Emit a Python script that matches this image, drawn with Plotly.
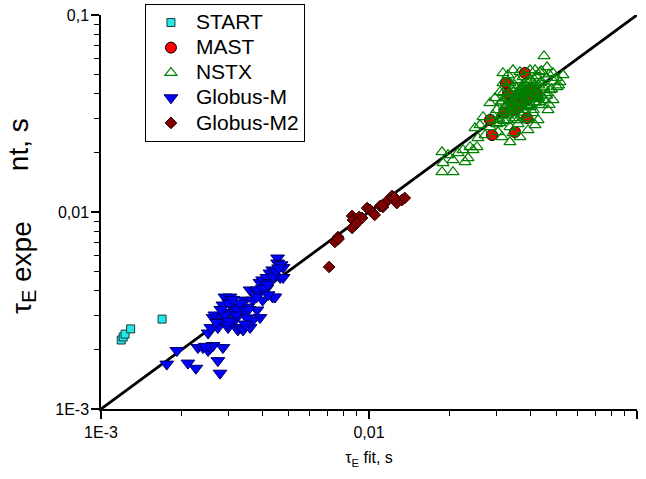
import plotly.graph_objects as go

# ---------------- data ----------------
start_x = [0.00119, 0.00121, 0.00123, 0.00129, 0.00169]
start_y = [0.00224, 0.00232, 0.00240, 0.00255, 0.00286]

mast_x = [0.0382, 0.03245, 0.02828, 0.02877, 0.03506, 0.03886,
          0.0340, 0.0360, 0.0380, 0.0350, 0.0400, 0.0370, 0.0330, 0.0390, 0.0420, 0.0320]
mast_y = [0.05077, 0.04517, 0.02931, 0.02460, 0.02547, 0.0300,
          0.0360, 0.0380, 0.0400, 0.0330, 0.0420, 0.0350, 0.0400, 0.0370, 0.0400, 0.0320]

nstx_x = [0.04498, 0.04615, 0.04164, 0.04346, 0.04859, 0.05296, 0.05161, 0.05030, 0.04735,
          0.04859, 0.04655, 0.04273, 0.04092, 0.03920, 0.03659, 0.03446, 0.03358, 0.03136,
          0.03029, 0.02828, 0.02952, 0.03082, 0.03162, 0.03446, 0.03302, 0.03659, 0.03988,
          0.02664, 0.02596, 0.02486, 0.02549, 0.02710, 0.02529, 0.02828, 0.02902, 0.03162,
          0.03273, 0.04237, 0.04615, 0.04346, 0.03988, 0.03755, 0.03567, 0.03358, 0.03162,
          0.03723, 0.03988, 0.03446, 0.03597, 0.03886, 0.03358, 0.03082, 0.04421, 0.04164,
          0.03755, 0.03162, 0.03358, 0.03567,
          0.01873, 0.01971, 0.02058, 0.02243, 0.02282, 0.01873, 0.02058, 0.01889, 0.02149,
          0.02382, 0.02445, 0.02342,
          0.0330, 0.0350, 0.0370, 0.0360, 0.0340, 0.0380, 0.0400, 0.0390, 0.0410, 0.0420,
          0.0430, 0.0380, 0.0350, 0.0330, 0.0320, 0.0310, 0.0360, 0.0370, 0.0390, 0.0400,
          0.0410, 0.0440, 0.0450, 0.0460, 0.0470, 0.0340, 0.0300, 0.0290, 0.0300, 0.0320,
          0.0360, 0.0370, 0.0395, 0.0420, 0.0430, 0.0350, 0.0330, 0.0380, 0.0400, 0.0420,
          0.0440, 0.0490, 0.0500, 0.0510, 0.0480, 0.0460, 0.0450, 0.0470,
          0.0325, 0.0335, 0.0345, 0.0355, 0.0365, 0.0375, 0.0385, 0.0395, 0.0405, 0.0415,
          0.0325, 0.0335, 0.0345, 0.0355, 0.0365, 0.0375, 0.0385, 0.0395, 0.0405, 0.0415,
          0.0325, 0.0335, 0.0345, 0.0355, 0.0365, 0.0375, 0.0385, 0.0395, 0.0405, 0.0415,
          0.0315, 0.0342, 0.0368, 0.0392, 0.0418, 0.0440, 0.0305, 0.0352, 0.0378, 0.0432]
nstx_y = [0.06193, 0.05445, 0.05257, 0.05136, 0.05077, 0.04959, 0.04570, 0.04311, 0.04162,
          0.03702, 0.03295, 0.02931, 0.03181, 0.02608, 0.02403, 0.02518, 0.02266, 0.02403,
          0.02547, 0.03575, 0.03790, 0.04066, 0.05077, 0.05257, 0.04959, 0.05136, 0.05257,
          0.03036, 0.02764, 0.02669, 0.02375, 0.02460, 0.02138, 0.02700, 0.02931, 0.03219,
          0.02931, 0.03834, 0.04018, 0.04517, 0.04677, 0.04311, 0.04018, 0.03702, 0.04018,
          0.03412, 0.03412, 0.03295, 0.02931, 0.02931, 0.02700, 0.02830, 0.03493, 0.02764,
          0.04844, 0.04517, 0.04517, 0.04677,
          0.02016, 0.01947, 0.01836, 0.02064, 0.01794, 0.01596, 0.01596, 0.01773, 0.01993,
          0.02138, 0.02064, 0.01879,
          0.0380, 0.0360, 0.0390, 0.0330, 0.0350, 0.0370, 0.0380, 0.0350, 0.0400, 0.0420,
          0.0440, 0.0320, 0.0300, 0.0310, 0.0340, 0.0360, 0.0410, 0.0430, 0.0410, 0.0350,
          0.0330, 0.0460, 0.0430, 0.0480, 0.0500, 0.0420, 0.0330, 0.0310, 0.0280, 0.0290,
          0.0280, 0.0310, 0.0300, 0.0360, 0.0380, 0.0440, 0.0460, 0.0450, 0.0470, 0.0490,
          0.0520, 0.0460, 0.0480, 0.0440, 0.0420, 0.0390, 0.0370, 0.0350,
          0.0345, 0.0372, 0.0335, 0.0398, 0.0362, 0.0415, 0.0382, 0.0428, 0.0395, 0.0445,
          0.0312, 0.0328, 0.0352, 0.0340, 0.0388, 0.0360, 0.0405, 0.0376, 0.0420, 0.0400,
          0.0378, 0.0402, 0.0368, 0.0425, 0.0392, 0.0440, 0.0410, 0.0455, 0.0430, 0.0468,
          0.0365, 0.0318, 0.0420, 0.0345, 0.0375, 0.0392, 0.0298, 0.0388, 0.0330, 0.0362]

globm_x = [0.00176, 0.00192, 0.00211, 0.00226, 0.00230, 0.00240, 0.00251, 0.00257, 0.00262,
           0.00273, 0.00278, 0.00285, 0.00251, 0.00257, 0.00262, 0.00266, 0.00285, 0.00298,
           0.00290, 0.00303, 0.00285, 0.00311, 0.00316, 0.00324, 0.00330, 0.00339, 0.00351,
           0.00344, 0.00360, 0.00369, 0.00382, 0.00392, 0.00360, 0.00369, 0.00385, 0.00392,
           0.00416, 0.00401, 0.00437, 0.00446, 0.00427, 0.00437, 0.00456, 0.00456, 0.00478,
           0.00466, 0.00416, 0.00427, 0.00278, 0.00273, 0.00298, 0.00298, 0.00311, 0.00339,
           0.00324, 0.00382, 0.00401, 0.00478,
           0.00300, 0.00320, 0.00350, 0.00330, 0.00355, 0.00310, 0.00290, 0.00270, 0.00380,
           0.00400, 0.00440, 0.00450, 0.00470, 0.00460, 0.00420, 0.00345, 0.00300, 0.00420,
           0.00280, 0.00245]
globm_y = [0.00169, 0.00198, 0.00171, 0.00161, 0.00205, 0.00205, 0.00198, 0.00205, 0.00210,
           0.00176, 0.00152, 0.00205, 0.00243, 0.00259, 0.00291, 0.00300, 0.00291, 0.00309,
           0.00370, 0.00370, 0.00337, 0.00329, 0.00283, 0.00252, 0.00259, 0.00309, 0.00329,
           0.00357, 0.00402, 0.00357, 0.00318, 0.00291, 0.00259, 0.00283, 0.00388, 0.00439,
           0.00411, 0.00452, 0.00370, 0.00370, 0.00490, 0.00508, 0.00584, 0.00551, 0.00523,
           0.00465, 0.00465, 0.00439, 0.00277, 0.00259, 0.00259, 0.00267, 0.00309, 0.00252,
           0.00318, 0.00402, 0.00357, 0.00465,
           0.00345, 0.00300, 0.00290, 0.00345, 0.00320, 0.00360, 0.00300, 0.00275, 0.00370,
           0.00410, 0.00470, 0.00500, 0.00540, 0.00520, 0.00430, 0.00270, 0.00280, 0.00380,
           0.00320, 0.00208]

globm2_x = [0.00710, 0.00746, 0.00766, 0.00865, 0.00871, 0.00887, 0.00919, 0.00942, 0.00865,
            0.00984, 0.0101, 0.01035, 0.0105, 0.0110, 0.01127, 0.01178, 0.01219, 0.0123,
            0.0127, 0.01327, 0.0136, 0.0077, 0.0090, 0.0112, 0.0125]
globm2_y = [0.00526, 0.00705, 0.00746, 0.00955, 0.0091, 0.00859, 0.00944, 0.00933, 0.0083,
            0.01047, 0.01024, 0.00989, 0.00966, 0.01072, 0.0106, 0.0115, 0.01206, 0.01178,
            0.0111, 0.0115, 0.01178, 0.0073, 0.0088, 0.0108, 0.0118]

fit_x = [0.001, 0.1]
fit_y = [0.001, 0.1]

tick_vals = [0.001, 0.01, 0.1]
tick_text = ["1E-3", "0,01", "0,1"]
minor_vals = [0.002, 0.003, 0.004, 0.005, 0.006, 0.007, 0.008, 0.009,
              0.02, 0.03, 0.04, 0.05, 0.06, 0.07, 0.08, 0.09]

FONT = "Arial, 'Liberation Sans', sans-serif"


def leg(name):
    return '<span style="font-size:21px">' + name + '</span>'


fig = go.Figure()

fig.add_trace(go.Scatter(x=fit_x, y=fit_y, mode="lines",
                         line=dict(color="black", width=2.8), showlegend=False,
                         hoverinfo="skip"))

fig.add_trace(go.Scatter(x=start_x, y=start_y, mode="markers", name=leg("START"),
                         marker=dict(symbol="square", size=8, color="#22E8E8",
                                     line=dict(color="#1a3a3a", width=1))))
fig.add_trace(go.Scatter(x=mast_x, y=mast_y, mode="markers", name=leg("MAST"),
                         marker=dict(symbol="circle", size=11, color="#FF0000",
                                     line=dict(color="black", width=1))))
fig.add_trace(go.Scatter(x=nstx_x, y=nstx_y, mode="markers", name=leg("NSTX"),
                         marker=dict(symbol="triangle-up-open", size=10.5, color="#008000",
                                     line=dict(color="#008000", width=1.2))))
fig.add_trace(go.Scatter(x=globm_x, y=globm_y, mode="markers", name=leg("Globus-M"),
                         marker=dict(symbol="triangle-down", size=12, color="#0000FF",
                                     line=dict(color="#000060", width=1))))
fig.add_trace(go.Scatter(x=globm2_x, y=globm2_y, mode="markers", name=leg("Globus-M2"),
                         marker=dict(symbol="diamond", size=9, color="#800000",
                                     line=dict(color="#2a0000", width=1))))

axis_common = dict(
    type="log", range=[-3, -1], showgrid=False, zeroline=False,
    showline=True, linecolor="black", linewidth=1.5,
    ticks="outside", ticklen=8, tickwidth=1.5, tickcolor="black",
    tickvals=tick_vals, ticktext=tick_text,
    tickfont=dict(family=FONT, size=16, color="black"),
    minor=dict(tickvals=minor_vals, ticks="outside", ticklen=5, tickwidth=1.2,
               tickcolor="black", showgrid=False),
    mirror=False,
)

fig.update_xaxes(**axis_common,
                 title=dict(text="τ<sub>E</sub> fit, s",
                            font=dict(family=FONT, size=16, color="black"),
                            standoff=12))
fig.update_yaxes(**axis_common, ticklabelstandoff=-1)

fig.update_layout(
    width=646, height=479,
    margin=dict(l=101, r=9, t=15, b=70, autoexpand=False),
    paper_bgcolor="white", plot_bgcolor="white",
    font=dict(family=FONT, color="black"),
    legend=dict(x=0.082, y=1.028, xanchor="left", yanchor="top",
                bgcolor="white", bordercolor="black", borderwidth=1,
                font=dict(family=FONT, size=17, color="black"),
                itemwidth=40, tracegroupgap=0),
    annotations=[
        dict(text="nt, s", xref="paper", yref="paper", x=-0.155, y=0.672,
             xanchor="center", yanchor="middle", textangle=-90, showarrow=False,
             font=dict(family=FONT, size=28, color="black")),
        dict(text="τ<sub>E</sub> expe", xref="paper", yref="paper", x=-0.146, y=0.36,
             xanchor="center", yanchor="middle", textangle=-90, showarrow=False,
             font=dict(family=FONT, size=28, color="black")),
    ],
)

fig.write_html("out.html", config={"displayModeBar": False},
               post_script="document.body.style.margin='0';document.body.style.overflow='hidden';")
